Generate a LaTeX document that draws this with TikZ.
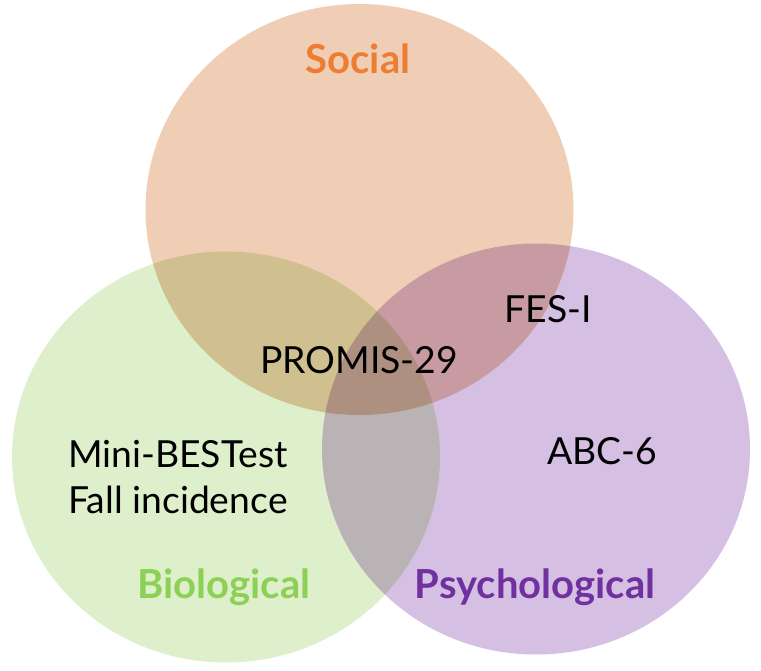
\documentclass[tikz,border=0pt]{standalone}
\usepackage{fontspec}
\setmainfont{Lato}
\usetikzlibrary{shapes.geometric}
\definecolor{socfill}{RGB}{240,205,181}
\definecolor{biofill}{RGB}{222,239,204}
\definecolor{psyfill}{RGB}{213,192,228}
\definecolor{socink}{RGB}{237,125,49}
\definecolor{bioink}{RGB}{140,208,85}
\definecolor{psyink}{RGB}{112,48,160}
\tikzset{
  setshape/.style={ellipse, minimum width=428pt, minimum height=411pt, inner sep=0pt, draw=none},
  setlabel/.style={anchor=base, inner sep=0pt, font=\fontsize{40}{40}\selectfont\bfseries},
  item/.style={anchor=base, inner sep=0pt, font=\fontsize{37.3}{40}\selectfont, text=black}
}
\begin{document}
\begin{tikzpicture}[x=1pt,y=-1pt]
\useasboundingbox[fill=white] (0,0) rectangle (761,671);
\begin{scope}[blend group=multiply]
  \node[setshape, fill=socfill] (social) at (359.5,209.5) {};
  \node[setshape, fill=biofill] (bio) at (226,457) {};
  \node[setshape, fill=psyfill] (psy) at (536,449) {};
\end{scope}
\node[setlabel, text=socink] (lsoc) at (358,74) {Social};
\node[setlabel, text=bioink] (lbio) at (224,598) {Biological};
\node[setlabel, text=psyink] (lpsy) at (535,598) {Psychological};
\node[item] (promis) at (359,373) {PROMIS-29};
\node[item] (fes) at (548,323) {FES-I};
\node[item] (mini) at (178,467) {Mini-BESTest};
\node[item] (fall) at (178,513) {Fall incidence};
\node[item] (abc) at (602,464) {ABC-6};
\end{tikzpicture}
\end{document}
